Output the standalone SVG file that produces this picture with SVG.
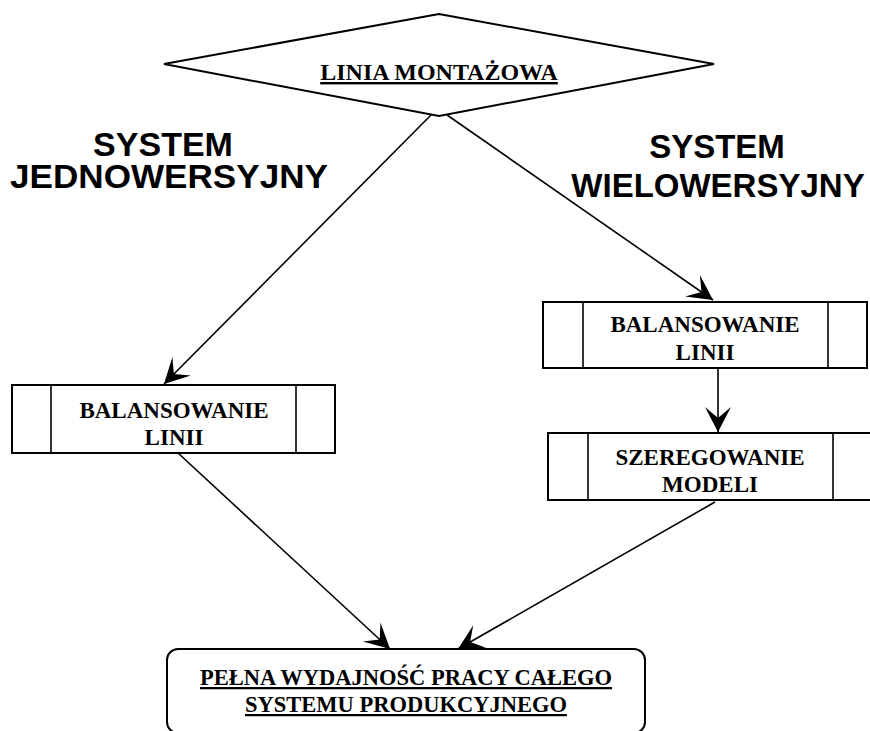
<svg xmlns="http://www.w3.org/2000/svg" width="870" height="731" viewBox="0 0 870 731">
<style>
.shape{fill:#fff;stroke:#000;stroke-width:2}
.ln{fill:none;stroke:#000;stroke-width:1.6}
.t{font-family:"Liberation Serif","Times New Roman",serif;font-weight:bold;font-size:23px;text-anchor:middle;fill:#000}
.u{text-decoration:underline}
.big{font-family:"Liberation Sans",Arial,sans-serif;font-weight:bold;font-size:33px;text-anchor:middle;fill:#000}
</style>
<defs>
<marker id="arr" viewBox="-28 -15 30 30" markerWidth="30" markerHeight="30" refX="0" refY="0" orient="auto" markerUnits="userSpaceOnUse">
<path d="M0,0 L-25,-13 L-14,0 L-25,13 Z" fill="#000"/>
</marker>
</defs>
<rect width="870" height="731" fill="#fff"/>
<g id="labels">
<text class="big" x="163" y="156" style="font-size:34px">SYSTEM</text>
<text class="big" x="169" y="188" style="font-size:34px" textLength="318" lengthAdjust="spacingAndGlyphs">JEDNOWERSYJNY</text>
<text class="big" x="717" y="158">SYSTEM</text>
<text class="big" x="718" y="197">WIELOWERSYJNY</text>
</g>
<g id="linia">
<polygon class="shape" points="164,64 439,14 714,64 439,116"/>
<text class="t u" x="439" y="80" style="font-size:24px">LINIA MONTAŻOWA</text>
</g>
<g id="bal1">
<rect class="shape" x="12" y="385" width="323" height="68"/>
<line class="ln" x1="51" y1="385" x2="51" y2="453" stroke-width="2"/>
<line class="ln" x1="296" y1="385" x2="296" y2="453" stroke-width="2"/>
<text class="t" x="174" y="418">BALANSOWANIE</text>
<text class="t" x="174" y="445">LINII</text>
</g>
<g id="bal2">
<rect class="shape" x="543" y="302" width="324" height="66"/>
<line class="ln" x1="583" y1="302" x2="583" y2="368" stroke-width="2"/>
<line class="ln" x1="828" y1="302" x2="828" y2="368" stroke-width="2"/>
<text class="t" x="705" y="332">BALANSOWANIE</text>
<text class="t" x="705" y="360">LINII</text>
</g>
<g id="szereg">
<rect class="shape" x="548" y="433" width="330" height="67"/>
<line class="ln" x1="588" y1="433" x2="588" y2="500" stroke-width="2"/>
<line class="ln" x1="833" y1="433" x2="833" y2="500" stroke-width="2"/>
<text class="t" x="710" y="465">SZEREGOWANIE</text>
<text class="t" x="710" y="492">MODELI</text>
</g>
<g id="pelna">
<rect class="shape" x="167" y="649" width="478" height="84" rx="11"/>
<text class="t u" x="406" y="685" style="font-size:22.5px">PEŁNA WYDAJNOŚĆ PRACY CAŁEGO</text>
<text class="t u" x="406" y="712" style="font-size:22.5px">SYSTEMU PRODUKCYJNEGO</text>
</g>
<g id="connectors">
<line class="ln" x1="431" y1="115" x2="164" y2="384" marker-end="url(#arr)"/>
<line class="ln" x1="447" y1="115" x2="713" y2="300" marker-end="url(#arr)"/>
<line class="ln" x1="718" y1="368" x2="718" y2="432" marker-end="url(#arr)"/>
<line class="ln" x1="178" y1="453" x2="390" y2="649" marker-end="url(#arr)"/>
<line class="ln" x1="715" y1="502" x2="458" y2="649" marker-end="url(#arr)"/>
</g>
</svg>
